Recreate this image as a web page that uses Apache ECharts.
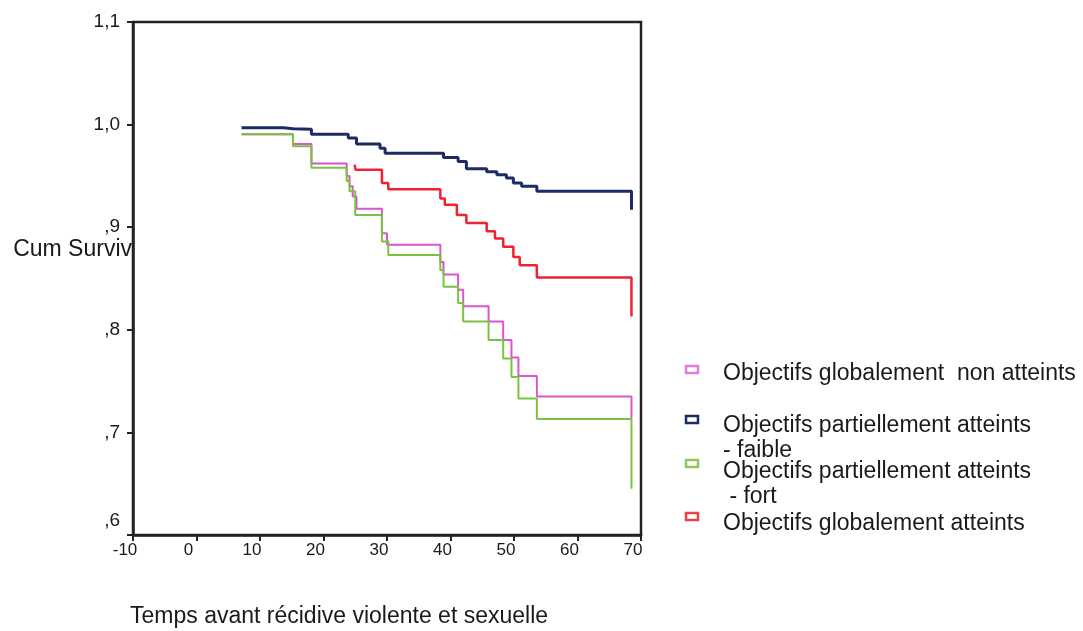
<!DOCTYPE html>
<html>
<head>
<meta charset="utf-8">
<title>Cum Survival</title>
<script src="https://cdn.jsdelivr.net/npm/echarts@6/dist/echarts.min.js"></script>
<style>
  html, body { margin: 0; padding: 0; background: #fff; }
  #chart { width: 1083px; height: 631px; }
</style>
</head>
<body>
<div id="chart"></div>
<script>
// Kaplan-Meier steps: time (start of each step) and cumulative survival from that time on
const seriesNames = [
  'Objectifs globalement  non atteints',
  'Objectifs partiellement atteints\n- faible',
  'Objectifs partiellement atteints\n - fort',
  'Objectifs globalement atteints'
];

const nonAtteintsTimes = [7.1, 15.2, 18.1, 23.65, 24.1, 24.6, 25.2, 29.2, 30.0, 38.4, 38.9, 41.2, 42.0, 46.0, 48.3, 49.6, 50.7, 53.6, 68.5];
const nonAtteintsValues = [0.9905, 0.981, 0.962, 0.950, 0.940, 0.930, 0.918, 0.894, 0.883, 0.866, 0.854, 0.839, 0.823, 0.808, 0.790, 0.773, 0.755, 0.735, 0.714];

const faibleTimes = [7.1, 13.7, 15.2, 18.1, 23.9, 25.2, 28.9, 29.7, 38.9, 41.2, 42.5, 45.7, 47.3, 48.8, 49.9, 51.2, 53.6, 68.5];
const faibleValues = [0.997, 0.996, 0.9955, 0.9905, 0.987, 0.981, 0.977, 0.972, 0.968, 0.964, 0.957, 0.954, 0.951, 0.948, 0.943, 0.940, 0.935, 0.917];

const fortTimes = [7.1, 15.2, 18.1, 23.65, 24.1, 25.0, 29.2, 30.2, 38.4, 38.9, 41.2, 42.0, 46.0, 48.3, 49.6, 50.7, 53.6, 68.5];
const fortValues = [0.9905, 0.979, 0.958, 0.945, 0.935, 0.912, 0.886, 0.873, 0.858, 0.842, 0.826, 0.808, 0.790, 0.772, 0.754, 0.733, 0.713, 0.645];

const atteintsTimes = [24.9, 25.05, 29.2, 30.2, 38.4, 39.1, 41.0, 42.5, 45.7, 47.0, 48.3, 49.9, 50.9, 53.6, 68.5];
const atteintsValues = [0.961, 0.956, 0.943, 0.937, 0.928, 0.922, 0.912, 0.904, 0.896, 0.889, 0.881, 0.871, 0.863, 0.851, 0.813];

const xTicks = [-10, 0, 10, 20, 30, 40, 50, 60, 70];
const yTickLabels = { '0.6': ',6', '0.7': ',7', '0.8': ',8', '0.9': ',9', '1.0': '1,0', '1.1': '1,1' };

const yTitle = 'Cum Surviv';
const xTitle = 'Temps avant récidive violente et sexuelle';

const lineColors = ['#dc55cc', '#1c2b66', '#7cc241', '#ee2233'];
const markerColors = ['#e07ed8', '#1c2b66', '#8fc85e', '#e8404c'];

function zip(ts, vs) { return ts.map((t, i) => [t, vs[i]]); }

const FONT = '"Liberation Sans", Arial, sans-serif';

// legend drawn as a block: hollow colour swatch + label lines
const legendRows = [
  { idx: 0, markerY: 370, textY: 373 },
  { idx: 1, markerY: 420, textY: 425 },
  { idx: 2, markerY: 464, textY: 471 },
  { idx: 3, markerY: 517, textY: 523 }
];
const legendGraphics = [];
legendRows.forEach(r => {
  legendGraphics.push({
    type: 'rect',
    shape: { x: 686, y: r.markerY - 4, width: 12, height: 7 },
    style: { fill: '#fff', stroke: markerColors[r.idx], lineWidth: 2.5 }
  });
  legendGraphics.push({
    type: 'text',
    x: 723, y: r.textY - 12,
    style: {
      text: seriesNames[r.idx],
      font: '23px ' + FONT,
      fill: '#1a1a1a',
      lineHeight: 25,
      verticalAlign: 'top'
    }
  });
});

const chart = echarts.init(document.getElementById('chart'), null, { renderer: 'canvas' });

chart.setOption({
  animation: false,
  backgroundColor: '#fff',
  grid: {
    left: 133, top: 22, width: 508, height: 513,
    show: true, borderColor: '#222', borderWidth: 2.5, backgroundColor: 'transparent'
  },
  xAxis: {
    type: 'value',
    min: -10, max: 70, interval: 10,
    axisLine: { show: true, onZero: false, lineStyle: { color: '#222', width: 2.5 } },
    axisTick: { show: true, length: 6, lineStyle: { color: '#222', width: 2 } },
    splitLine: { show: false },
    axisLabel: {
      fontFamily: FONT, fontSize: 17, color: '#1a1a1a', margin: 7,
      padding: [0, 16, 0, 0],
      formatter: v => xTicks.includes(v) ? String(v) : ''
    }
  },
  yAxis: {
    type: 'value',
    min: 0.6, max: 1.1, interval: 0.1,
    axisLine: { show: true, onZero: false, lineStyle: { color: '#222', width: 2.5 } },
    axisTick: { show: true, length: 6, lineStyle: { color: '#222', width: 2 } },
    splitLine: { show: false },
    axisLabel: {
      fontFamily: FONT, fontSize: 19, color: '#1a1a1a', margin: 13,
      formatter: v => {
        const key = v.toFixed(1);
        const txt = yTickLabels[key] || '';
        return key === '0.6' ? '{low|' + txt + '}' : txt;
      },
      rich: {
        low: { fontFamily: FONT, fontSize: 19, color: '#1a1a1a', padding: [0, 0, 28, 0] }
      }
    }
  },
  graphic: [
    {
      type: 'text', x: 132, y: 250,
      style: { text: yTitle, font: '23px ' + FONT, fill: '#1a1a1a', align: 'right', verticalAlign: 'middle' }
    },
    {
      type: 'text', x: 130, y: 617,
      style: { text: xTitle, font: '23px ' + FONT, fill: '#1a1a1a', align: 'left', verticalAlign: 'middle' }
    }
  ].concat(legendGraphics),
  series: [
    {
      name: seriesNames[0], type: 'line', step: 'end', showSymbol: false,
      data: zip(nonAtteintsTimes, nonAtteintsValues),
      lineStyle: { color: lineColors[0], width: 2 }, z: 2
    },
    {
      name: seriesNames[3], type: 'line', step: 'end', showSymbol: false,
      data: zip(atteintsTimes, atteintsValues),
      lineStyle: { color: lineColors[3], width: 2.5 }, z: 2
    },
    {
      name: seriesNames[1], type: 'line', step: 'end', showSymbol: false,
      data: zip(faibleTimes, faibleValues),
      lineStyle: { color: lineColors[1], width: 3 }, z: 2
    },
    {
      name: seriesNames[2], type: 'line', step: 'end', showSymbol: false,
      data: zip(fortTimes, fortValues),
      lineStyle: { color: lineColors[2], width: 2 }, z: 3
    }
  ]
});
</script>
</body>
</html>
